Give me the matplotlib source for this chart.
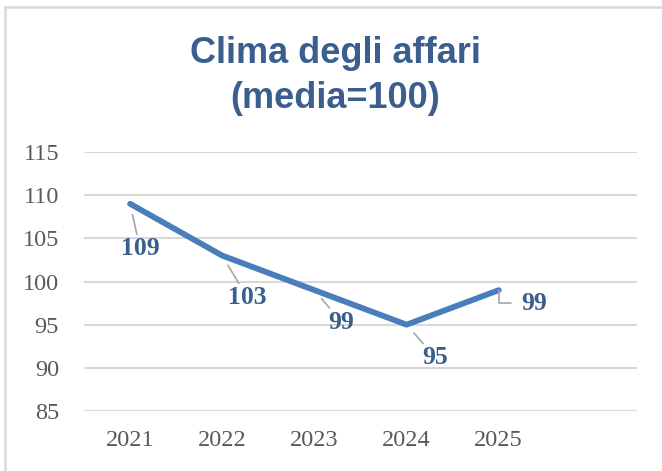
import matplotlib
matplotlib.use("Agg")
import matplotlib.pyplot as plt
from matplotlib.lines import Line2D

# dati
anni = ["2021", "2022", "2023", "2024", "2025"]
clima = [109, 103, 99, 95, 99]
# offset etichette (pixel)
offset_etichette = [(10, -45), (25, -42), (27, -32), (29, -33), (23, -13)]
yticks = [85, 90, 95, 100, 105, 110, 115]

blu_linea = "#4a7ebb"
blu_testo = "#3a5f8f"
grigio = "#d9d9d9"
serif = ["Liberation Serif", "DejaVu Serif"]

fig = plt.figure(figsize=(6.62, 4.71), dpi=100)
ax = fig.add_axes([84 / 662, 1 - 411 / 471, (637 - 84) / 662, (411 - 152) / 471])

x = list(range(len(anni)))
ax.plot(x, clima, color=blu_linea, linewidth=4.2, solid_capstyle="round",
        solid_joinstyle="round", zorder=3)

for i, (xi, val, (dx, dy)) in enumerate(zip(x, clima, offset_etichette)):
    if i == len(anni) - 1:
        # ultima etichetta a destra, linea guida a gomito
        frecce = dict(arrowstyle="-", color="#a6a6a6", lw=1.2, shrinkA=6, shrinkB=0,
                      connectionstyle="angle,angleA=0,angleB=90,rad=0")
        ha = "left"
    else:
        frecce = dict(arrowstyle="-", color="#a6a6a6", lw=1.2, shrinkA=0, shrinkB=8)
        ha = "center"
    ax.annotate(str(val), xy=(xi, val), xytext=(dx * 0.72, dy * 0.72),
                textcoords="offset points", ha=ha, va="center",
                fontsize=18.5, fontweight="bold", color=blu_testo, family=serif,
                arrowprops=frecce, zorder=4)

ax.set_xlim(-0.5, len(anni) + 0.5)
ax.set_ylim(85, 115)
ax.set_xticks(x)
ax.set_xticklabels(anni)
ax.set_yticks(yticks)
ax.grid(axis="y", color=grigio, linewidth=1.5)
ax.set_axisbelow(True)
for s in ax.spines.values():
    s.set_visible(False)
ax.tick_params(length=0, labelsize=17.5, colors="#595959", pad=14)
ax.tick_params(axis="y", pad=18)
for lab in ax.get_xticklabels() + ax.get_yticklabels():
    lab.set_family(serif)

# titolo
fig.text(335 / 662, 1 - 76 / 471, "Clima degli affari\n(media=100)", ha="center", va="center",
         fontsize=26, fontweight="bold", color=blu_testo, linespacing=1.4,
         family=["Liberation Sans Narrow", "Liberation Sans", "DejaVu Sans"])

# bordo del grafico (tagliato a destra e in basso)
fig.add_artist(Line2D([5 / 662, 5 / 662], [0, 1 - 7 / 471], color=grigio, lw=1.8))
fig.add_artist(Line2D([5 / 662, 1], [1 - 7 / 471, 1 - 7 / 471], color=grigio, lw=1.8))

fig.savefig("out.png", dpi=100)
